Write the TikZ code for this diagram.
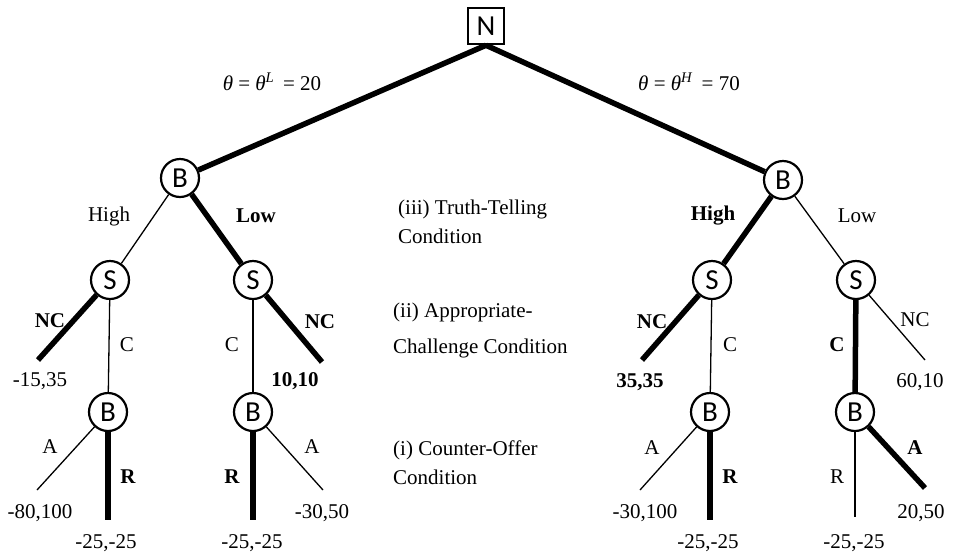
\documentclass[tikz,border=0pt]{standalone}
\usepackage{fontspec}
\setmainfont{Liberation Serif}
\newfontfamily\playerfont{Carlito}
\usetikzlibrary{positioning}

\begin{document}
\begin{tikzpicture}[x=1pt,y=-1pt,
  player/.style={circle,draw,line width=2.2pt,minimum size=38pt,inner sep=0pt,
    font=\playerfont\fontsize{29}{29}\selectfont},
  nature/.style={rectangle,draw,line width=2.5pt,minimum size=36pt,inner sep=0pt,
    font=\playerfont\fontsize{29}{29}\selectfont},
  eqpath/.style={line width=5.5pt},
  offpath/.style={line width=1.3pt},
  lbl/.style={font=\fontsize{21}{24}\selectfont,inner sep=0pt},
  cond/.style={lbl,anchor=west,align=left,font=\fontsize{21}{29}\selectfont}]
  \useasboundingbox (0,0) rectangle (954,558);
  % Nature moves first
  \node[nature] (N) at (486,26) {N};
  % Buyer, Seller, Buyer
  \node[player] (BL) at (180,178) {B};
  \node[player] (BR) at (783,180) {B};
  \foreach \n/\x in {SLH/110, SLL/253, SRH/712, SRL/856}
    \node[player] (\n) at (\x,280) {S};
  \foreach \n/\x in {BLH/108, BLL/253, BRH/710, BRL/855}
    \node[player] (\n) at (\x,412) {B};
  % terminal points
  \foreach \n/\x/\y in {tLH/38/360, tLL/322/362, tRH/642/360, tRL/925/360,
      aLH/37/490, rLH/108/520, rLL/253/520, aLL/323/490,
      aRH/640/490, rRH/710/520, rRL/855/517, aRL/925/488}
    \coordinate (\n) at (\x,\y);
  % branches (thick = equilibrium path)
  \draw[eqpath] (N.south) -- (BL);
  \draw[eqpath] (N.south) -- (BR);
  \foreach \a/\b/\s in {BL/SLH/offpath, BL/SLL/eqpath, BR/SRH/eqpath, BR/SRL/offpath,
      SLH/tLH/eqpath, SLH/BLH/offpath, SLL/BLL/offpath, SLL/tLL/eqpath,
      SRH/tRH/eqpath, SRH/BRH/offpath, SRL/BRL/eqpath, SRL/tRL/offpath,
      BLH/aLH/offpath, BLH/rLH/eqpath, BLL/rLL/eqpath, BLL/aLL/offpath,
      BRH/aRH/offpath, BRH/rRH/eqpath, BRL/rRL/offpath, BRL/aRL/eqpath}
    \draw[\s] (\a) -- (\b);
  % types
  \node[lbl] (thL) at (272,82) {\textit{θ} = \textit{θ}\textsuperscript{\textit{L}}\, = 20};
  \node[lbl] (thH) at (689,82) {\textit{θ} = \textit{θ}\textsuperscript{\textit{H}}\, = 70};
  % action labels
  \foreach \n/\x/\y/\t in {lHi/109/216/High, lLo/256/216/\textbf{Low},
      rHi/713/216/\textbf{High}, rLo/857/216/Low,
      lNC1/50/321/\textbf{NC}, lC1/127/345/C, lC2/232/345/C, lNC2/320/322/\textbf{NC},
      rNC1/652/322/\textbf{NC}, rC1/730/345/C, rC2/837/345/\textbf{C}, rNC2/915/320/NC,
      lA1/50/447/A, lR1/128/477/\textbf{R}, lR2/232/477/\textbf{R}, lA2/312/447/A,
      rA1/652/448/A, rR1/730/477/\textbf{R}, rR2/837/477/R, rA2/915/448/\textbf{A}}
    \node[lbl] (\n) at (\x,\y) {\t};
  % payoffs
  \foreach \n/\x/\y/\t in {p1/40/381/{-15,35}, p2/295/381/{\textbf{10,10}},
      p3/640/382/{\textbf{35,35}}, p4/920/382/{60,10},
      p5/40/513/{-80,100}, p6/106/543/{-25,-25}, p7/252/543/{-25,-25}, p8/322/513/{-30,50},
      p9/645/513/{-30,100}, p10/708/543/{-25,-25}, p11/854/543/{-25,-25}, p12/921/513/{20,50}}
    \node[lbl] (\n) at (\x,\y) {\t};
  % conditions
  \node[cond] (c3) at (398,222) {(iii) Truth-Telling\\Condition};
  \node[cond] (c2) at (393,330) {(ii) Appropriate-\\[7pt]Challenge Condition};
  \node[cond] (c1) at (393,463) {(i) Counter-Offer\\Condition};
\end{tikzpicture}
\end{document}
